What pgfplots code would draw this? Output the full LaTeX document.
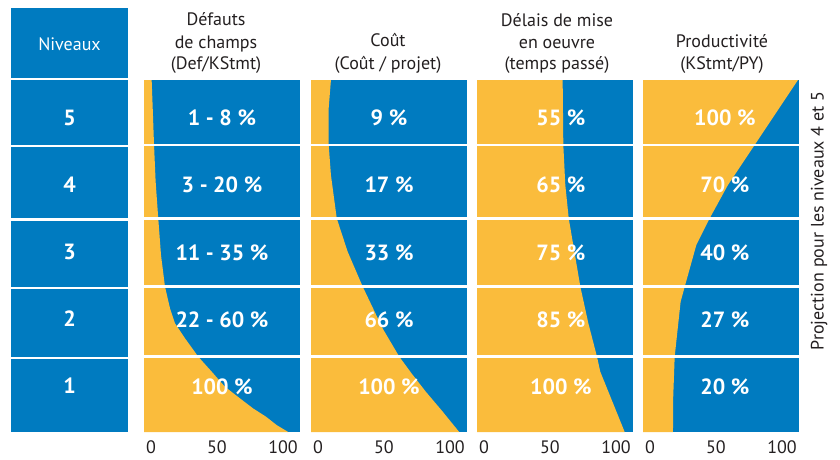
\documentclass[border=0pt]{standalone}
\usepackage{pgfplots}
\pgfplotsset{compat=1.18}
\usepackage{fontspec}
\setmainfont{PT Sans}
\definecolor{cblue}{RGB}{0,123,192}
\definecolor{cyel}{RGB}{250,188,60}
\definecolor{ctext}{RGB}{35,31,32}
\newcommand\hfont{\fontsize{18}{22}\selectfont}
\newcommand\bfont{\fontsize{22}{26}\selectfont\bfseries}
\pgfplotsset{panel/.style={width=156pt,height=352pt,scale only axis,anchor=south west,
  xmin=-5.3,xmax=112.9,ymin=0,ymax=5,
  axis background/.style={fill=cblue},
  hide y axis, axis line style={draw=none},
  xtick={0,50,100}, major tick length=0pt,
  xticklabel style={font=\hfont,text=ctext,yshift=-5pt},
  /pgf/number format/assume math mode=true}}
\newcommand\seps{%
  \draw[white,line width=2.5pt] (axis cs:-6,1.07) -- (axis cs:114,1.07);
  \draw[white,line width=2.5pt] (axis cs:-6,2.064) -- (axis cs:114,2.064);
  \draw[white,line width=2.5pt] (axis cs:-6,3.035) -- (axis cs:114,3.035);
  \draw[white,line width=2.5pt] (axis cs:-6,4.077) -- (axis cs:114,4.077);}
\begin{document}
\begin{tikzpicture}
\path[use as bounding box] (0pt,0pt) rectangle (840pt,459pt);
% Niveaux column
\fill[cblue] (11pt,381pt) rectangle (128pt,451pt);
\fill[cblue] (11pt,27pt) rectangle (128pt,379pt);
\foreach \yy in {313,239.5,171,101}{\draw[white,line width=2.5pt] (10pt,\yy pt) -- (129pt,\yy pt);}
\node[anchor=base,text=white,font=\hfont] at (69.5pt,408pt) {Niveaux};
\node[text=white,font=\bfont] at (69.5pt,341.3pt) {5};
\node[text=white,font=\bfont] at (69.5pt,274pt) {4};
\node[text=white,font=\bfont] at (69.5pt,207pt) {3};
\node[text=white,font=\bfont] at (69.5pt,140pt) {2};
\node[text=white,font=\bfont] at (69.5pt,73pt) {1};
% headers
\node[anchor=base,text=ctext,font=\hfont] at (216pt,433pt) {Défauts};
\node[anchor=base,text=ctext,font=\hfont] at (216pt,410.5pt) {de champs};
\node[anchor=base,text=ctext,font=\hfont] at (216pt,389pt) {(Def/KStmt)};
\node[anchor=base,text=ctext,font=\hfont] at (388pt,412pt) {Coût};
\node[anchor=base,text=ctext,font=\hfont] at (388pt,389.5pt) {(Coût / projet)};
\node[anchor=base,text=ctext,font=\hfont] at (557pt,432pt) {Délais de mise};
\node[anchor=base,text=ctext,font=\hfont] at (557pt,410pt) {en oeuvre};
\node[anchor=base,text=ctext,font=\hfont] at (557pt,389pt) {(temps passé)};
\node[anchor=base,text=ctext,font=\hfont] at (722pt,411pt) {Productivité};
\node[anchor=base,text=ctext,font=\hfont] at (722pt,389pt) {(KStmt/PY)};
\node[rotate=90,text=ctext,font=\hfont] at (819pt,238pt) {Projection pour les niveaux 4 et 5};
% Panel 1
\begin{axis}[panel,at={(144pt,27pt)}]
\addplot[fill=cyel,draw=none] coordinates {(-5.3,0) (104,0) (95.2,0.099) (87.1,0.218) (77.3,0.336) (67.4,0.478) (56,0.644) (46,0.857) (35.8,1.07) (25.8,1.33) (18.2,1.544) (14.4,1.757) (10.6,2.064) (7.6,2.51) (5.5,3.035) (3.5,3.56) (2.3,4.077) (1.3,4.6) (0.5,5) (-5.3,5)} -- cycle;
\seps
\node[text=white,font=\bfont] at (axis cs:53.8,4.46) {1 - 8 \%};
\node[text=white,font=\bfont] at (axis cs:53.8,3.51) {3 - 20 \%};
\node[text=white,font=\bfont] at (axis cs:53.8,2.54) {11 - 35 \%};
\node[text=white,font=\bfont] at (axis cs:53.8,1.59) {22 - 60 \%};
\node[text=white,font=\bfont] at (axis cs:53.8,0.64) {100 \%};
\end{axis}
% Panel 2
\begin{axis}[panel,at={(311pt,27pt)}]
\addplot[fill=cyel,draw=none] coordinates {(-5.3,0) (107,0) (94,0.3) (81.8,0.57) (71,0.83) (61.6,1.07) (49,1.47) (33.9,2.064) (22.5,2.56) (14.2,3.035) (9.8,3.65) (8.1,4.077) (8.1,4.6) (9.8,5) (-5.3,5)} -- cycle;
\seps
\node[text=white,font=\bfont] at (axis cs:53.8,4.46) {9 \%};
\node[text=white,font=\bfont] at (axis cs:53.8,3.51) {17 \%};
\node[text=white,font=\bfont] at (axis cs:53.8,2.54) {33 \%};
\node[text=white,font=\bfont] at (axis cs:53.8,1.59) {66 \%};
\node[text=white,font=\bfont] at (axis cs:53.8,0.64) {100 \%};
\end{axis}
% Panel 3
\begin{axis}[panel,at={(477pt,27pt)}]
\addplot[fill=cyel,draw=none] coordinates {(-5.3,0) (106.6,0) (88.1,0.857) (85.6,1.07) (79,1.55) (73,2.064) (64.2,3.035) (61.6,3.51) (60.1,4.077) (59.6,5) (-5.3,5)} -- cycle;
\seps
\node[text=white,font=\bfont] at (axis cs:58.3,4.46) {55 \%};
\node[text=white,font=\bfont] at (axis cs:58.3,3.51) {65 \%};
\node[text=white,font=\bfont] at (axis cs:58.3,2.54) {75 \%};
\node[text=white,font=\bfont] at (axis cs:58.3,1.59) {85 \%};
\node[text=white,font=\bfont] at (axis cs:58.3,0.64) {100 \%};
\end{axis}
% Panel 4
\begin{axis}[panel,at={(643pt,27pt)}]
\addplot[fill=cyel,draw=none] coordinates {(-5.3,0) (17.4,0) (17.6,0.5) (18.7,1.07) (23.2,1.85) (26.3,2.064) (35.1,2.656) (45.2,3.035) (59.1,3.51) (79.3,4.077) (112.1,5) (-5.3,5)} -- cycle;
\seps
\node[text=white,font=\bfont] at (axis cs:56.8,4.46) {100 \%};
\node[text=white,font=\bfont] at (axis cs:56.8,3.51) {70 \%};
\node[text=white,font=\bfont] at (axis cs:56.8,2.54) {40 \%};
\node[text=white,font=\bfont] at (axis cs:56.8,1.59) {27 \%};
\node[text=white,font=\bfont] at (axis cs:56.8,0.64) {20 \%};
\end{axis}
\end{tikzpicture}
\end{document}
